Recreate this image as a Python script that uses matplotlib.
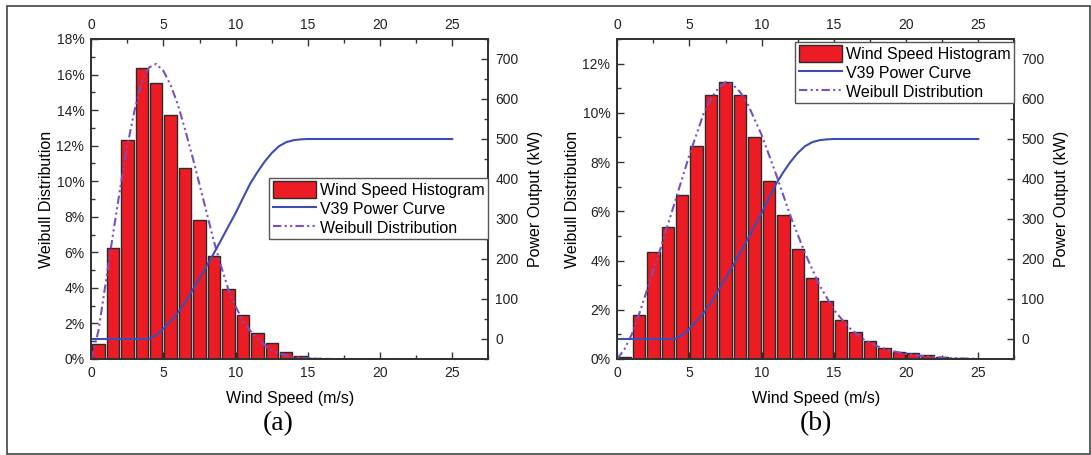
import numpy as np
import matplotlib
matplotlib.use("Agg")
import matplotlib.pyplot as plt
from matplotlib.ticker import MultipleLocator, FuncFormatter
from matplotlib.patches import Patch
from matplotlib.lines import Line2D

plt.rcParams['font.family'] = ['Liberation Sans', 'DejaVu Sans']

# ---- data ----
bin_centers = [i + 0.5 for i in range(25)]

hist_a = [0.84, 6.22, 12.3, 16.37, 15.55, 13.74, 10.75, 7.81, 5.78, 3.91,
          2.47, 1.46, 0.90, 0.37, 0.17, 0.05, 0.02, 0.01, 0, 0,
          0, 0, 0, 0, 0]
hist_b = [0.10, 1.78, 4.34, 5.36, 6.68, 8.65, 10.74, 11.26, 10.73, 9.01,
          7.24, 5.84, 4.46, 3.30, 2.34, 1.59, 1.08, 0.73, 0.46, 0.28,
          0.24, 0.15, 0.09, 0.04, 0.02]

weib_x_a = [0, 0.5, 1, 1.5, 2, 2.5, 3, 3.5, 4, 4.5, 5, 5.5, 6, 6.5, 7, 7.5,
            8, 8.5, 9, 9.5, 10, 10.5, 11, 11.5, 12, 12.5, 13, 13.5, 14, 15,
            16, 17, 20, 25]
weib_y_a = [0, 1.6, 4.3, 7.0, 9.6, 12.0, 14.0, 15.6, 16.4, 16.6, 16.2, 15.4,
            14.3, 12.9, 11.4, 9.8, 8.2, 6.6, 5.2, 3.9, 2.95, 2.15, 1.6, 1.15,
            0.78, 0.5, 0.32, 0.2, 0.12, 0.04, 0.01, 0, 0, 0]

weib_x_b = [0, 0.5, 1, 1.5, 2, 2.5, 3, 4, 5, 6, 6.5, 7, 7.5, 8, 8.5, 9, 10,
            11, 12, 13, 14, 15, 16, 17, 18, 19, 20, 21, 22, 23, 24, 25]
weib_y_b = [0, 0.4, 1.0, 1.8, 2.7, 3.6, 4.5, 6.4, 8.3, 10.0, 10.6, 11.0,
            11.25, 11.15, 10.85, 10.4, 9.1, 7.5, 5.8, 4.3, 3.0, 2.0, 1.3,
            0.82, 0.52, 0.33, 0.21, 0.13, 0.08, 0.04, 0.02, 0.01]

power_x = [0, 4, 4.5, 5, 5.5, 6, 6.5, 7, 7.5, 8, 8.5, 9, 9.5, 10, 10.5, 11,
           11.5, 12, 12.5, 13, 13.5, 14, 14.5, 15, 25]
power_y = [0, 0, 10, 26, 45, 66, 92, 122, 152, 183, 215, 248, 282, 315, 352,
           388, 417, 443, 465, 482, 492, 497, 499, 500, 500]

BAR_RED = '#ED1C24'
BLUE = '#3D4DB3'
PURPLE = '#7A4FC6'
DARK = '#333333'
DASH = (4, 1.6, 1, 1.6, 1, 1.6)

W, H = 1091, 455
fig = plt.figure(figsize=(W / 100, H / 100), dpi=100)


def panel(left, hist, wx, wy, ymax, legend_anchor, tag, tag_x):
    ax = fig.add_axes([left / W, (H - 359) / H, 397 / W, 320 / H])
    ax.bar(bin_centers, hist, width=0.86, color=BAR_RED, edgecolor='#2a2a2a',
           linewidth=1.0, zorder=2)
    ax.plot(wx, wy, color=PURPLE, lw=1.5, dashes=DASH, zorder=3)
    ax.set_xlim(0, 27.5)
    ax.set_ylim(0, ymax)
    ax.xaxis.set_major_locator(MultipleLocator(5))
    ax.xaxis.set_minor_locator(MultipleLocator(2.5))
    ax.yaxis.set_major_locator(MultipleLocator(2))
    ax.yaxis.set_minor_locator(MultipleLocator(1))
    ax.yaxis.set_major_formatter(FuncFormatter(lambda v, p: f"{v:.0f}%"))
    ax.set_xlabel("Wind Speed (m/s)", fontsize=11.5, labelpad=8)
    ax.set_ylabel("Weibull Distribution", fontsize=11.5, labelpad=2)

    axr = ax.twinx()
    axr.plot(power_x, power_y, color=BLUE, lw=1.5, zorder=3)
    axr.set_ylim(-50, 750)
    axr.yaxis.set_minor_locator(MultipleLocator(50))
    axr.set_yticks(range(0, 701, 100))
    axr.set_ylabel("Power Output (kW)", fontsize=11.5, labelpad=7)

    axt = ax.twiny()
    axt.set_xlim(0, 27.5)
    axt.xaxis.set_minor_locator(MultipleLocator(2.5))
    axt.set_xticks([0, 5, 10, 15, 20, 25])

    for a in (ax, axr, axt):
        a.tick_params(which='both', direction='in', labelsize=10,
                      color=DARK, labelcolor='#222222', width=1.0)
        a.tick_params(which='major', length=5, pad=5)
        a.tick_params(which='minor', length=3)
        for s in a.spines.values():
            s.set_color(DARK)
            s.set_linewidth(1.2)
    ax.tick_params(axis='x', which='both', top=False)
    axr.tick_params(axis='x', which='both', top=False, bottom=False)

    handles = [Patch(facecolor=BAR_RED, edgecolor='#2a2a2a', linewidth=1.0),
               Line2D([], [], color=BLUE, lw=1.5),
               Line2D([], [], color=PURPLE, lw=1.5, dashes=DASH)]
    labels = ["Wind Speed Histogram", "V39 Power Curve", "Weibull Distribution"]
    leg = axt.legend(handles, labels, loc='upper right',
                     bbox_to_anchor=legend_anchor, borderaxespad=0,
                     fontsize=11.5, frameon=True, fancybox=False,
                     handlelength=2.7, handleheight=1.2, handletextpad=0.3,
                     labelspacing=0.15, borderpad=0.2, framealpha=1)
    leg.get_frame().set_edgecolor('#555555')
    leg.get_frame().set_linewidth(1.0)

    fig.text(tag_x / W, 1 - 424 / H, tag,
             family=['Liberation Serif', 'DejaVu Serif'],
             fontsize=20, ha='center', va='center')


panel(91.3, hist_a, weib_x_a, weib_y_a, 18, (1.0, 0.565), "(a)", 278)
panel(617.3, hist_b, weib_x_b, weib_y_b, 13, (1.0, 0.99), "(b)", 816)

# outer frame of the figure
frame = plt.Rectangle((7 / W, 1.5 / H), (1089.5 - 7) / W, (449 - 1.5) / H,
                      transform=fig.transFigure, fill=False,
                      edgecolor='#444444', linewidth=1.2)
fig.patches.append(frame)

fig.savefig("out.png", dpi=100)
